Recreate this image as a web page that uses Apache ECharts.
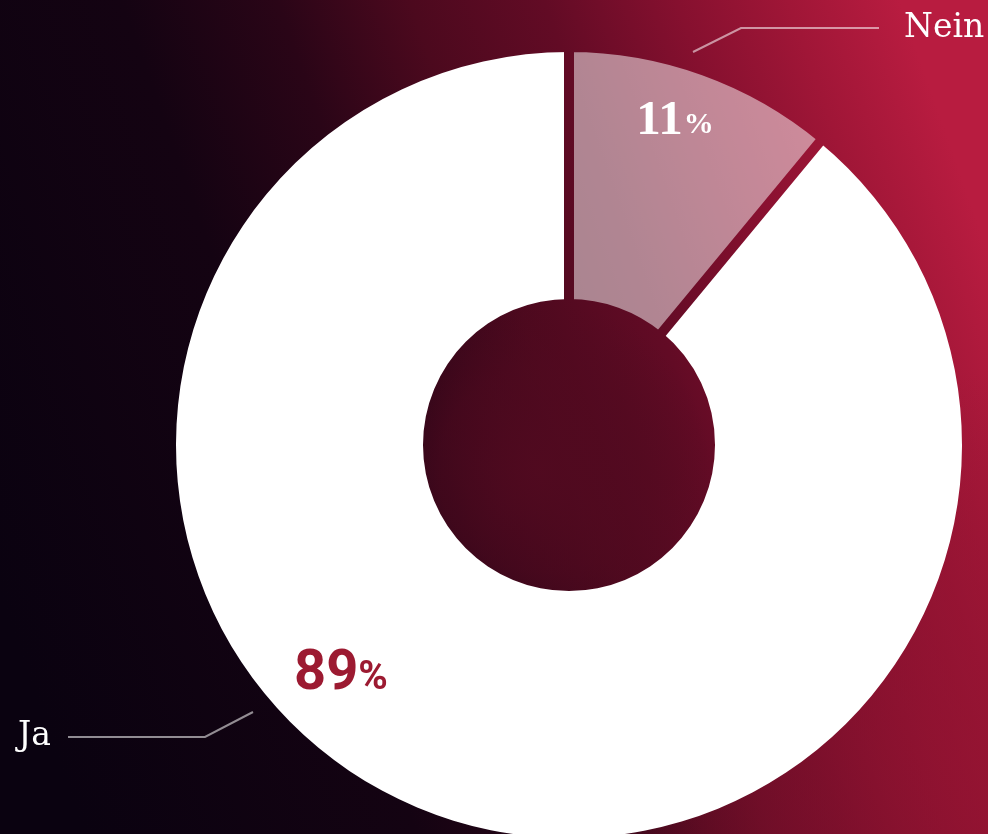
<!DOCTYPE html>
<html>
<head>
<meta charset="utf-8">
<script src="https://cdn.jsdelivr.net/npm/echarts@6/dist/echarts.min.js"></script>
<style>
  html, body { margin: 0; padding: 0; width: 988px; height: 834px; overflow: hidden; background: #0a0210; }
  #chart { width: 988px; height: 834px; }
</style>
</head>
<body>
<div id="chart"></div>
<script>
// Survey result: share of answers
const categories = ['Nein', 'Ja'];
const values = [11, 89];

// Label placement for the percentage texts and the name callouts
const pctLabelPos = { Nein: [675, 121], Ja: [341, 675] };
const nameLabelPos = { Nein: [904, 28, 'left'], Ja: [51, 736, 'right'] };
const calloutPoints = {
  Nein: [[693, 52], [741, 28], [879, 28]],
  Ja: [[253, 712], [205, 737], [68, 737]]
};

const W = 988, H = 834;
const CX = 569, CY = 445, R_IN = 146, R_OUT = 393, GAP = 10;

// Background: dark on the left, crimson towards the upper right
const bgStops = [
  { offset: 0.00, color: '#0a0210' },
  { offset: 0.30, color: '#140312' },
  { offset: 0.44, color: '#2a0517' },
  { offset: 0.56, color: '#4c091e' },
  { offset: 0.68, color: '#620b25' },
  { offset: 0.80, color: '#86102f' },
  { offset: 0.90, color: '#a01637' },
  { offset: 1.00, color: '#b81c40' }
];
const bgLine = { x: 0, y: 600, x2: W, y2: 250 };

// Same gradient in page coordinates, used to cut the gaps between the slices
const gapColor = {
  type: 'linear', global: true,
  x: bgLine.x, y: bgLine.y, x2: bgLine.x2, y2: bgLine.y2,
  colorStops: bgStops
};
const bgColor = {
  type: 'linear',
  x: bgLine.x / W, y: bgLine.y / H, x2: bgLine.x2 / W, y2: bgLine.y2 / H,
  colorStops: bgStops
};

// Soft glows: one in the hole of the ring, one in the lower right corner
function glow(x, y, r, rgb, a0, a1) {
  return {
    type: 'rect', z: 1, silent: true,
    shape: { x: 0, y: 0, width: W, height: H },
    style: {
      fill: {
        type: 'radial', global: true, x, y, r,
        colorStops: [
          { offset: 0, color: 'rgba(' + rgb + ',' + a0 + ')' },
          { offset: 0.6, color: 'rgba(' + rgb + ',' + a1 + ')' },
          { offset: 1, color: 'rgba(' + rgb + ',0)' }
        ]
      }
    }
  };
}

const clear = 'rgba(0,0,0,0)';
const base = {
  type: 'pie',
  center: [CX, CY],
  startAngle: 90,
  clockwise: true,
  silent: true,
  animation: false
};

const chart = echarts.init(document.getElementById('chart'), null, { renderer: 'canvas' });

chart.setOption({
  backgroundColor: bgColor,
  animation: false,
  graphic: [
    glow(540, 470, 170, '82,10,32', 0.9, 0.55),
    glow(1000, 770, 400, '150,20,50', 0.75, 0.4)
  ],
  series: [
    // "Ja" ring
    Object.assign({}, base, {
      z: 2,
      radius: [R_IN, R_OUT],
      label: { show: false },
      labelLine: { show: false },
      data: categories.map((name, i) => ({
        name, value: values[i],
        itemStyle: { color: name === 'Ja' ? '#ffffff' : clear }
      }))
    }),
    // "Nein" slice, its border paints the gaps in background colour
    Object.assign({}, base, {
      z: 3,
      radius: [R_IN - GAP / 2, R_OUT + GAP / 2],
      label: { show: false },
      labelLine: { show: false },
      data: categories.map((name, i) => ({
        name, value: values[i],
        itemStyle: name === 'Nein'
          ? { color: 'rgba(255,255,255,0.5)', borderColor: gapColor, borderWidth: GAP }
          : { color: clear, borderWidth: 0 }
      }))
    }),
    // Percentage labels
    Object.assign({}, base, {
      z: 4,
      radius: [R_IN, R_OUT],
      itemStyle: { color: clear },
      data: categories.map((name, i) => ({ name, value: values[i] })),
      label: {
        show: true,
        position: 'inside',
        formatter: p => p.name === 'Nein' ? '{a|' + p.value + '}{b|%}' : '{c|' + p.value + '}{d|%}',
        rich: {
          a: { fontFamily: 'Liberation Serif', fontWeight: 'bold', fontSize: 49, color: '#ffffff' },
          b: { fontFamily: 'Liberation Serif', fontWeight: 'bold', fontSize: 30, color: '#ffffff', padding: [9, 0, 0, 1] },
          c: { fontFamily: 'Roboto', fontWeight: 'bold', fontSize: 56, color: '#9c1a31' },
          d: { fontFamily: 'Roboto', fontWeight: 'bold', fontSize: 40, color: '#9c1a31', padding: [8, 0, 0, 0] }
        }
      },
      labelLine: { show: false },
      labelLayout: p => {
        const pos = pctLabelPos[categories[p.dataIndex]];
        return { x: pos[0], y: pos[1], align: 'center', verticalAlign: 'middle' };
      }
    }),
    // Name callouts
    Object.assign({}, base, {
      z: 4,
      radius: [R_IN, R_OUT],
      itemStyle: { color: clear },
      data: categories.map((name, i) => ({ name, value: values[i] })),
      label: {
        show: true,
        position: 'outside',
        formatter: '{b}',
        fontFamily: 'DejaVu Serif',
        fontSize: 33,
        color: '#ffffff'
      },
      labelLine: {
        show: true,
        lineStyle: { color: 'rgba(255,255,255,0.55)', width: 2 }
      },
      labelLayout: p => {
        const name = categories[p.dataIndex];
        const pos = nameLabelPos[name];
        return {
          x: pos[0], y: pos[1], align: pos[2], verticalAlign: 'middle',
          labelLinePoints: calloutPoints[name]
        };
      }
    })
  ]
});
</script>
</body>
</html>
